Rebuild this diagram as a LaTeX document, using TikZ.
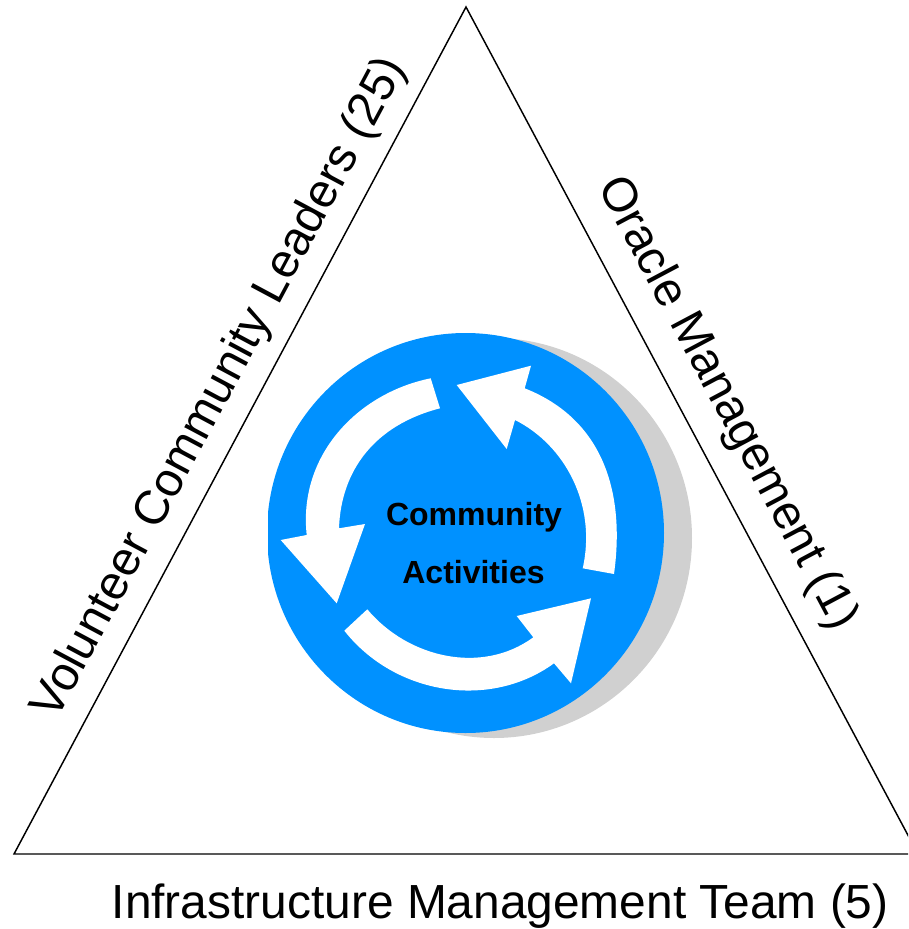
\documentclass[tikz,border=0pt]{standalone}
\usepackage{fontspec}
\setmainfont{Liberation Sans}
\definecolor{discblue}{RGB}{0,145,255}
\definecolor{shadowgray}{RGB}{208,208,208}
\tikzset{
  side/.style={font=\fontsize{35.9}{42}\selectfont, inner sep=0pt, anchor=base west},
  centre/.style={font=\fontsize{24}{28}\selectfont\bfseries, inner sep=0pt, anchor=base},
  loopar/.style={fill=white, draw=none},
}
\begin{document}
\begin{tikzpicture}[x=0.75pt,y=-0.75pt]
\useasboundingbox (0,0) rectangle (908,929);
\begin{scope}
\clip (0,0) rectangle (908,929);
\coordinate (apex) at (466,7);
\coordinate (bl) at (14,854);
\coordinate (br) at (918,854);
\draw[line width=1.1pt, line join=miter] (apex) -- (bl) -- (br) -- cycle;
\end{scope}
\fill[shadowgray] (494,538) ellipse [x radius=198, y radius=200];
\begin{scope}
\clip (268,300) rectangle (700,760);
\fill[discblue] (465.5,533) ellipse [x radius=198.5, y radius=200];
\end{scope}
\fill[loopar] (582.7,568.3) .. controls (597,505) and (565,445) .. (515,420) -- (506.7,449) -- (456.7,385) -- (531,365.7) -- (524.7,388.3) .. controls (605,420) and (625,495) .. (614,574) -- cycle;
\fill[loopar] (430.7,378.3) .. controls (358,393) and (298,455) .. (306.7,535) -- (280.7,540) -- (336.7,603.3) -- (365,524) -- (339,528.3) .. controls (341,470) and (375,425) .. (440,408.3) -- cycle;
\fill[loopar] (344.3,630.7) .. controls (395,695) and (490,710) .. (554,663.3) -- (571,683.3) -- (591,598.3) -- (516.7,616) -- (533.3,637.3) .. controls (482,675) and (408,658) .. (367.3,609.3) -- cycle;
\node[centre] (c1) at (474,525) {Community};
\node[centre] (c2) at (473.5,583.5) {Activities};
\node[side] (bottom) at (111.5,918) {Infrastructure Management Team (5)};
\node[side, rotate=61.9] (left) at (56.5,722) {Volunteer Community Leaders (25)};
\node[side, rotate=-62] (right) at (597,186) {Oracle Management (1)};
\end{tikzpicture}
\end{document}
